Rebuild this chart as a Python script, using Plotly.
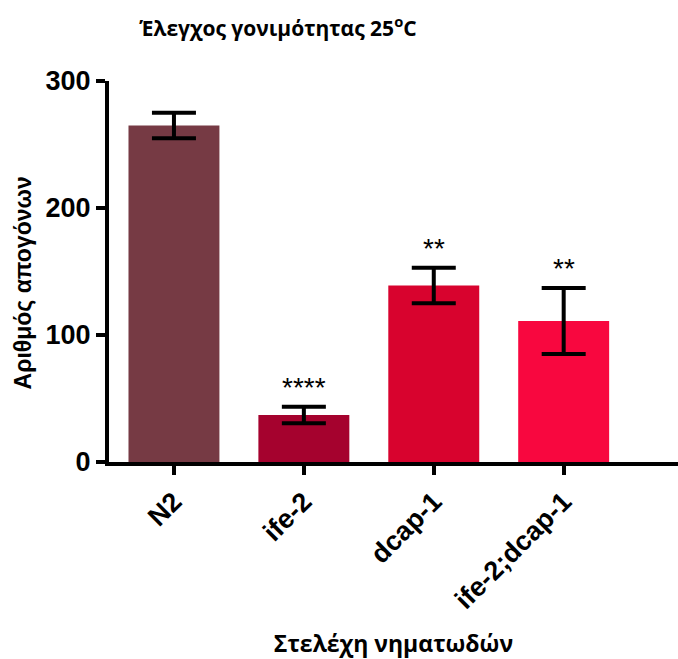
import plotly.graph_objects as go

# Fertility assay at 25 °C: mean progeny per strain with error bars
strains = ["N2", "ife-2", "dcap-1", "ife-2;dcap-1"]
progeny_mean = [265, 37, 139, 111]
progeny_err = [10, 6.5, 14, 26]
significance = ["", "****", "**", "**"]
bar_colors = ["#763A44", "#A5022E", "#D8032E", "#F8073F"]

x_idx = list(range(len(strains)))

fig = go.Figure()
fig.add_trace(go.Bar(
    x=x_idx,
    y=progeny_mean,
    width=0.7,
    marker=dict(color=bar_colors, line=dict(width=0)),
    error_y=dict(type="data", array=progeny_err, visible=True,
                 color="black", thickness=4, width=22),
    showlegend=False,
))

for xi, m, e, s in zip(x_idx, progeny_mean, progeny_err, significance):
    if s:
        fig.add_annotation(x=xi, y=m + e, text=s, showarrow=False,
                           yanchor="bottom", yshift=2,
                           font=dict(family="Liberation Sans", size=28, color="black"))

bold = dict(family="Liberation Sans", size=27, color="black", weight="bold")

# Y-axis title placed as a rotated paper annotation
fig.add_annotation(text="Αριθμός απογόνων", xref="paper", yref="paper",
                   x=-0.152, y=0.47, xanchor="center", yanchor="middle",
                   textangle=-90, showarrow=False,
                   font=dict(family="Liberation Sans", size=23, color="black",
                             weight="bold"))

fig.update_layout(
    width=678, height=659,
    margin=dict(l=109, r=0, t=81, b=197),
    plot_bgcolor="white", paper_bgcolor="white",
    title=dict(text="Έλεγχος γονιμότητας 25<sup>o</sup>C",
               x=0.41, xanchor="center", y=0.957, yanchor="middle",
               font=dict(family="Open Sans", size=21, color="black", weight="bold")),
    xaxis=dict(
        tickmode="array", tickvals=x_idx, ticktext=strains,
        range=[-0.5, 3.88], tickangle=-45,
        showline=True, linecolor="black", linewidth=4,
        ticks="outside", ticklen=9, tickwidth=4, tickcolor="black",
        tickfont=bold, showgrid=False, zeroline=False,
        title=dict(text="Στελέχη νηματωδών", standoff=23,
                   font=dict(family="Open Sans", size=23, color="black", weight="bold")),
    ),
    yaxis=dict(
        range=[0, 300], tickvals=[0, 100, 200, 300],
        showline=True, linecolor="black", linewidth=4,
        ticks="outside", ticklen=9, tickwidth=4, tickcolor="black",
        tickfont=bold, showgrid=False, zeroline=False,
    ),
)

fig.write_html("out.html")
